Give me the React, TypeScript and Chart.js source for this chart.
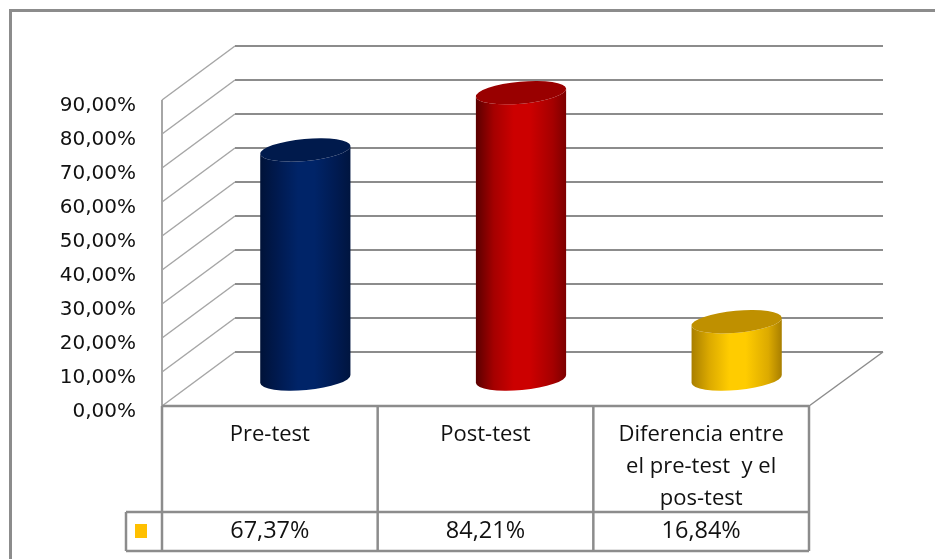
import React, { useEffect, useRef } from "react";
import { Chart, registerables } from "chart.js";

Chart.register(...registerables);

const categories: string[][] = [
  ["Pre-test"],
  ["Post-test"],
  ["Diferencia entre", "el pre-test  y el", "pos-test"],
];
const seriesValues = [67.37, 84.21, 16.84];
const barColors = ["#002060", "#c00000", "#ffc000"];
const barLeftEdges = ["#001238", "#5a0000", "#a87e00"];
const barRightEdges = ["#00153f", "#7c0000", "#a87e00"];
const barShoulders = ["#001a50", "#a50000", "#dcaa00"];
const barCores = ["#002468", "#cc0000", "#ffcc00"];
const barCaps = ["#001a4c", "#990000", "#bf9000"];

const gridColor = "#8c8c8c";
const wallColor = "#a6a6a6";
const textColor = "#111111";
const valueFont = '23.5px "Open Sans"';
const DEPTH_X = 73;
const DEPTH_Y = 54;

const formatPercent = (v: number) => v.toFixed(2).replace(".", ",") + "%";

function stroke(ctx: CanvasRenderingContext2D, pts: number[][], color: string, width: number) {
  ctx.strokeStyle = color;
  ctx.lineWidth = width;
  ctx.beginPath();
  pts.forEach(([x, y], i) => (i ? ctx.lineTo(x, y) : ctx.moveTo(x, y)));
  ctx.stroke();
}

// Back wall, side wall and floor of the box, hung on the value axis ticks.
const boxPlugin = {
  id: "box3d",
  // Value labels sit a little below their tick position.
  afterUpdate(chart: Chart) {
    (chart.scales.y as any).getLabelItems().forEach((item: any) => {
      item.options.translation[1] += 5.5;
    });
  },
  beforeDatasetsDraw(chart: Chart) {
    const { ctx, chartArea: a } = chart;
    const y = chart.scales.y;
    ctx.save();
    stroke(ctx, [[a.left, y.getPixelForValue(90)], [a.left, a.bottom]], wallColor, 2);
    y.ticks.forEach((t) => {
      const py = y.getPixelForValue(t.value);
      const bx = a.left + DEPTH_X;
      const by = py - DEPTH_Y;
      stroke(ctx, [[a.left, py], [bx, by]], wallColor, 1.5);
      stroke(ctx, [[bx, by], [a.right + DEPTH_X + 1, by]], gridColor, 2);
    });
    const y0 = y.getPixelForValue(0);
    stroke(ctx, [[a.right, y0], [a.right + DEPTH_X + 1, y0 - DEPTH_Y]], gridColor, 1.5);
    ctx.restore();
  },
  // Cylinders replace the flat bars, placed half way into the box depth.
  beforeDatasetDraw(chart: Chart, args: any) {
    const { ctx } = chart;
    const meta = args.meta;
    meta.data.forEach((bar: any, i: number) => {
      const rx = bar.width / 2;
      const ry = 11;
      const tilt = -0.09;
      const cx = bar.x + DEPTH_X / 2 - 1;
      const top = bar.y - DEPTH_Y / 2;
      const base = bar.base - DEPTH_Y / 2;
      const grad = ctx.createLinearGradient(cx - rx, 0, cx + rx, 0);
      grad.addColorStop(0, barLeftEdges[i]);
      grad.addColorStop(0.2, barShoulders[i]);
      grad.addColorStop(0.42, barCores[i]);
      grad.addColorStop(0.6, barCores[i]);
      grad.addColorStop(0.85, barShoulders[i]);
      grad.addColorStop(1, barRightEdges[i]);
      ctx.save();
      ctx.fillStyle = grad;
      ctx.beginPath();
      ctx.ellipse(cx, top, rx, ry, tilt, Math.PI, 0, true);
      ctx.ellipse(cx, base, rx, ry, tilt, 0, Math.PI, false);
      ctx.closePath();
      ctx.fill();
      ctx.fillStyle = barCaps[i];
      ctx.beginPath();
      ctx.ellipse(cx, top, rx, ry, tilt, 0, Math.PI * 2);
      ctx.fill();
      ctx.restore();
    });
    return false;
  },
  // Data table under the plot: column rules, legend key and value row.
  afterDraw(chart: Chart) {
    const { ctx, chartArea: a } = chart;
    const x = chart.scales.x;
    const rowTop = 512;
    const rowBottom = 551;
    const keyLeft = 126;
    const ruleWidth = 2.5;
    const colW = (a.right - a.left) / categories.length;
    ctx.save();
    stroke(ctx, [[a.left, a.bottom], [a.right, a.bottom]], gridColor, ruleWidth);
    stroke(ctx, [[keyLeft, rowTop], [a.right, rowTop]], gridColor, ruleWidth);
    stroke(ctx, [[keyLeft, rowBottom], [a.right, rowBottom]], gridColor, ruleWidth);
    stroke(ctx, [[keyLeft, rowTop], [keyLeft, rowBottom]], gridColor, ruleWidth);
    for (let i = 0; i <= categories.length; i++) {
      const cx = a.left + i * colW;
      stroke(ctx, [[cx, a.bottom], [cx, rowBottom]], gridColor, ruleWidth);
    }
    ctx.fillStyle = "#ffc000";
    ctx.fillRect(135, 524, 12, 14);
    ctx.fillStyle = textColor;
    ctx.font = valueFont;
    ctx.textAlign = "center";
    ctx.textBaseline = "middle";
    seriesValues.forEach((v, i) => {
      ctx.fillText(formatPercent(v), x.getPixelForValue(i), 531);
    });
    // Outer frame of the chart object; it runs off the canvas right and bottom.
    stroke(ctx, [[10.5, 559], [10.5, 10.5], [935, 10.5]], gridColor, 3);
    ctx.restore();
  },
};

export default function App() {
  const ref = useRef<HTMLCanvasElement>(null);
  useEffect(() => {
    if (!ref.current) return;
    const chart = new Chart(ref.current, {
      type: "bar",
      data: {
        labels: categories,
        datasets: [
          {
            label: "Resultados",
            data: seriesValues,
            backgroundColor: barColors,
            barPercentage: 0.42,
            categoryPercentage: 1,
          },
        ],
      },
      options: {
        responsive: false,
        animation: false,
        layout: { padding: { top: 100, right: 126, left: 0, bottom: 0 } },
        plugins: { legend: { display: false }, tooltip: { enabled: false }, title: { display: false } },
        scales: {
          x: {
            grid: { display: false },
            border: { display: false },
            afterFit: (s: any) => {
              s.height = 153;
            },
            ticks: {
              autoSkip: false,
              maxRotation: 0,
              minRotation: 0,
              padding: 5,
              color: textColor,
              font: { family: "Open Sans", size: 22, lineHeight: 1.45 },
            },
          },
          y: {
            min: 0,
            max: 90,
            grid: { display: false },
            border: { display: false },
            afterFit: (s: any) => {
              s.width = 162;
            },
            ticks: {
              stepSize: 10,
              padding: 18,
              color: textColor,
              font: { family: "DejaVu Sans", size: 20 },
              callback: (v: any) => formatPercent(Number(v)),
            },
          },
        },
      },
      plugins: [boxPlugin],
    });
    return () => chart.destroy();
  }, []);
  return (
    <div style={{ position: "absolute", left: 0, top: 0, width: 935, height: 559, background: "#fff" }}>
      <canvas ref={ref} width={935} height={559} style={{ display: "block" }} />
    </div>
  );
}
